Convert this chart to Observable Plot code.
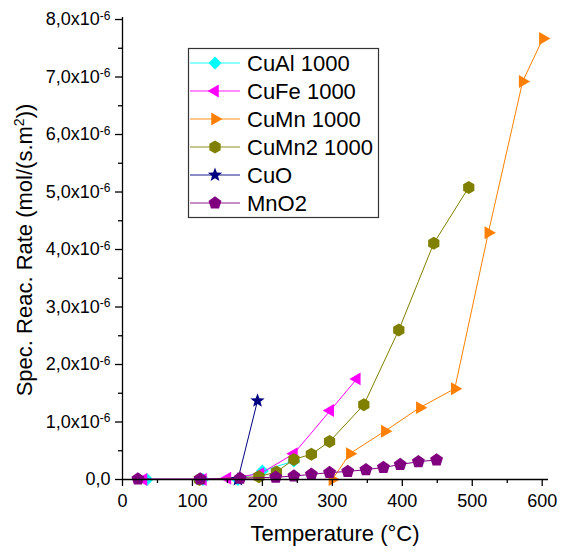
<!DOCTYPE html>
<html>
<head>
<meta charset="utf-8">
<script src="https://cdn.jsdelivr.net/npm/d3@7"></script>
<script src="https://cdn.jsdelivr.net/npm/@observablehq/plot@0.6"></script>
<style>
  html, body { margin: 0; padding: 0; background: #fff; }
  #chart { width: 564px; height: 553px; position: relative; }
  svg { font-family: "Liberation Sans", Arial, sans-serif; }
</style>
</head>
<body>
<div id="chart"></div>
<script>
// ---- Data ----
const seriesNames = ["CuAl 1000", "CuFe 1000", "CuMn 1000", "CuMn2 1000", "CuO", "MnO2"];
const seriesColors = ["#00ffff", "#ff00ff", "#ff8000", "#808000", "#000080", "#800080"];

const cuAlT = [35, 115, 165, 200, 245];
const cuAlR = [0, 0, 0, 0.15e-6, 0.32e-6];

const cuFeT = [30, 115, 150, 197, 245, 297, 335];
const cuFeR = [0, 0, 0.02e-6, 0.10e-6, 0.45e-6, 1.20e-6, 1.75e-6];

const cuMnT = [300, 325, 375, 425, 475, 523, 572, 601];
const cuMnR = [0, 0.45e-6, 0.84e-6, 1.25e-6, 1.58e-6, 4.29e-6, 6.92e-6, 7.67e-6];

const cuMn2T = [110, 195, 220, 245, 270, 296, 345, 395, 445, 495];
const cuMn2R = [0, 0.05e-6, 0.13e-6, 0.35e-6, 0.44e-6, 0.66e-6, 1.30e-6, 2.60e-6, 4.11e-6, 5.08e-6];

const cuOT = [165, 193];
const cuOR = [0, 1.37e-6];

const mnO2T = [22, 111, 168, 219, 245, 270, 296, 322, 348, 373, 397, 423, 449];
const mnO2R = [0.01e-6, 0.01e-6, 0.02e-6, 0.04e-6, 0.06e-6, 0.09e-6, 0.12e-6, 0.14e-6, 0.17e-6, 0.21e-6, 0.26e-6, 0.31e-6, 0.34e-6];

const xMajorTicks = [0, 100, 200, 300, 400, 500, 600];
const xMinorTicks = [50, 150, 250, 350, 450, 550];
const yMajorTicks = [0, 1e-6, 2e-6, 3e-6, 4e-6, 5e-6, 6e-6, 7e-6, 8e-6];
const yMinorTicks = [0.5e-6, 1.5e-6, 2.5e-6, 3.5e-6, 4.5e-6, 5.5e-6, 6.5e-6, 7.5e-6];

const xTitle = "Temperature (°C)";
const yTitleMain = "Spec. Reac. Rate (mol/(s.m";
const yTitleSup = "2";
const yTitleEnd = "))";

// ---- Symbols ----
const R = size => Math.sqrt(size / Math.PI);
const symDiamond = { draw(c, s) { const r = R(s); c.moveTo(0, -r); c.lineTo(r, 0); c.lineTo(0, r); c.lineTo(-r, 0); c.closePath(); } };
const symTriLeft = { draw(c, s) { const r = R(s); c.moveTo(-r, 0); c.lineTo(r / 2, -r * 0.866); c.lineTo(r / 2, r * 0.866); c.closePath(); } };
const symTriRight = { draw(c, s) { const r = R(s); c.moveTo(r, 0); c.lineTo(-r / 2, -r * 0.866); c.lineTo(-r / 2, r * 0.866); c.closePath(); } };
const symHex = { draw(c, s) { const r = R(s); for (let k = 0; k < 6; k++) { const a = Math.PI / 3 * k; const x = r * Math.sin(a), y = -r * Math.cos(a); k ? c.lineTo(x, y) : c.moveTo(x, y); } c.closePath(); } };
const symStar = { draw(c, s) { const r = R(s), ri = r * 0.42; for (let k = 0; k < 10; k++) { const a = Math.PI / 5 * k; const rr = k % 2 ? ri : r; const x = rr * Math.sin(a), y = -rr * Math.cos(a); k ? c.lineTo(x, y) : c.moveTo(x, y); } c.closePath(); } };
const symPent = { draw(c, s) { const r = R(s); for (let k = 0; k < 5; k++) { const a = 2 * Math.PI / 5 * k; const x = r * Math.sin(a), y = -r * Math.cos(a); k ? c.lineTo(x, y) : c.moveTo(x, y); } c.closePath(); } };

const seriesSymbols = [symDiamond, symTriLeft, symTriRight, symHex, symStar, symPent];
const seriesR = [6.5, 7.5, 7.5, 6.5, 7.5, 6.8];

const seriesT = [cuAlT, cuFeT, cuMnT, cuMn2T, cuOT, mnO2T];
const seriesRv = [cuAlR, cuFeR, cuMnR, cuMn2R, cuOR, mnO2R];

const tables = seriesNames.map((name, i) => seriesT[i].map((t, j) => ({ name, T: t, R: seriesRv[i][j] })));

const marks = [];
tables.forEach((rows, i) => {
  marks.push(Plot.line(rows, { x: "T", y: "R", stroke: seriesColors[i], strokeWidth: 1 }));
  marks.push(Plot.dot(rows, { x: "T", y: "R", symbol: seriesSymbols[i], r: seriesR[i], fill: seriesColors[i], stroke: "none" }));
});

const yFmt = d => d === 0 ? "0,0" : (d * 1e6).toFixed(1).replace(".", ",") + "x10";

const plot = Plot.plot({
  width: 564,
  height: 553,
  marginLeft: 122,
  marginRight: 16,
  marginTop: 17,
  marginBottom: 74,
  style: { fontFamily: "'Liberation Sans', Arial, sans-serif", background: "#fff" },
  x: { domain: [0, 609] },
  y: { domain: [0, 8.035e-6] },
  marks: [
    ...marks,
    Plot.ruleY([0], { stroke: "#000", strokeWidth: 1.3 }),
    Plot.ruleX([0], { stroke: "#000", strokeWidth: 1.3 }),
    Plot.axisX({ ticks: xMajorTicks, tickSize: 7, tickPadding: 8, fontSize: 18, label: null, tickFormat: d => String(d), stroke: "#000", strokeWidth: 1.3, color: "#000" }),
    Plot.axisX({ ticks: xMinorTicks, tickSize: 4, tickFormat: () => "", label: null, stroke: "#000", strokeWidth: 1.3 }),
    Plot.axisY({ ticks: yMajorTicks, tickSize: 7, tickPadding: 5, fontSize: 18, label: null, tickFormat: yFmt, stroke: "#000", strokeWidth: 1.3, color: "#000" }),
    Plot.axisY({ ticks: yMinorTicks, tickSize: 4, tickFormat: () => "", label: null, stroke: "#000", strokeWidth: 1.3 })
  ]
});

document.getElementById("chart").appendChild(plot);
const svg = d3.select(plot);

// superscripts on y tick labels
svg.selectAll("g[aria-label='y-axis tick label'] text").each(function () {
  const t = d3.select(this);
  const s = t.text();
  if (s && s.endsWith("x10")) {
    t.append("tspan").attr("dy", "-0.45em").attr("font-size", "12px").text("-6");
  }
});

// axis titles
svg.append("text")
  .attr("x", 335).attr("y", 541)
  .attr("text-anchor", "middle")
  .attr("font-size", "22px").attr("fill", "#000")
  .text(xTitle);

const yt = svg.append("text")
  .attr("transform", "translate(32,250) rotate(-90)")
  .attr("text-anchor", "middle")
  .attr("font-size", "22px").attr("fill", "#000");
yt.append("tspan").text(yTitleMain);
yt.append("tspan").attr("dy", "-8").attr("font-size", "14px").text(yTitleSup);
yt.append("tspan").attr("dy", "8").text(yTitleEnd);

// legend
const lg = svg.append("g").attr("class", "legend").attr("text-anchor", "start");
lg.append("rect").attr("x", 188.5).attr("y", 48.5).attr("width", 190).attr("height", 169)
  .attr("fill", "#fff").attr("stroke", "#333").attr("stroke-width", 1.2);
seriesNames.forEach((name, i) => {
  const cy = 63 + i * 28;
  lg.append("line").attr("x1", 190).attr("x2", 240).attr("y1", cy).attr("y2", cy)
    .attr("stroke", seriesColors[i]).attr("stroke-width", 1.5).attr("stroke-opacity", 0.6);
  lg.append("path").attr("transform", `translate(215,${cy})`)
    .attr("d", d3.symbol(seriesSymbols[i], Math.PI * seriesR[i] * seriesR[i])())
    .attr("fill", seriesColors[i]);
  lg.append("text").attr("x", 247).attr("y", cy + 8).attr("text-anchor", "start")
    .attr("font-size", "22px").attr("fill", "#000").text(name);
});
</script>
</body>
</html>
